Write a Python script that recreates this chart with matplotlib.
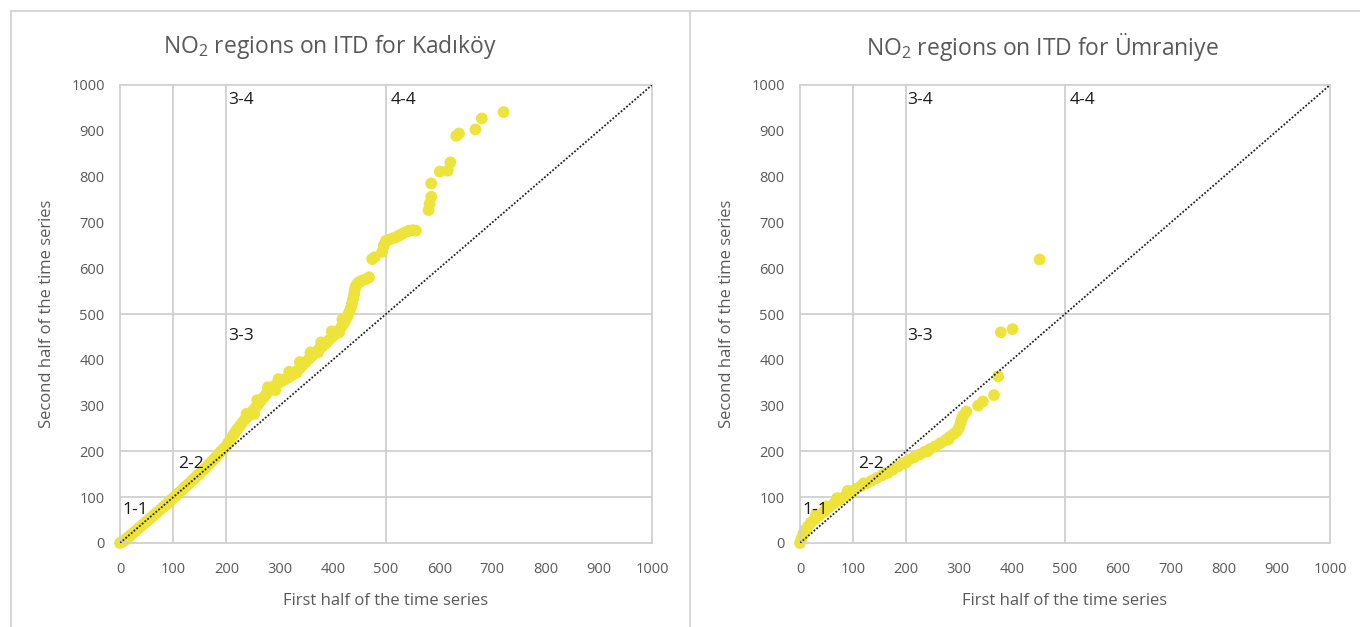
import matplotlib
matplotlib.use("Agg")
import matplotlib.pyplot as plt
from matplotlib.lines import Line2D

# Kadikoy: first half vs second half of the series
kad_x = [0, 4, 8, 12, 16, 20, 25, 30, 35, 40, 45, 50, 55, 60, 65, 70, 75, 80, 85, 90,
         95, 100, 105, 110, 115, 120, 125, 130, 135, 140, 145, 150, 155, 160, 165, 170,
         175, 180, 185, 190, 195, 200, 204, 208, 212, 216, 220, 225, 230, 235, 240, 245,
         250, 255, 260, 265, 270, 275, 280, 285, 290, 296, 302, 308, 314, 320, 326, 332,
         338, 344, 350, 356, 362, 368, 374, 380, 386, 392, 398, 404, 410, 415, 420, 424,
         428, 431, 434, 436, 438, 440, 441, 443, 446, 450, 455, 462, 468, 474, 479, 493,
         496, 500, 505, 512, 518, 524, 530, 537, 543, 550, 556, 580, 582, 585, 585, 601,
         616, 621, 632, 637, 668, 680, 721,
         238, 258, 278, 298, 318, 338, 358, 378, 398, 418, 252, 292, 332, 372, 412]
kad_y = [0, 2, 5, 9, 13, 17, 22, 27, 32, 37, 42, 47, 52, 57, 62, 67, 72, 77, 82, 87,
         93, 98, 103, 109, 114, 120, 125, 130, 136, 141, 147, 152, 158, 163, 169, 175,
         181, 187, 194, 200, 206, 212, 220, 227, 234, 241, 248, 255, 263, 270, 276, 282,
         289, 296, 303, 311, 318, 325, 332, 338, 343, 348, 352, 356, 360, 364, 369, 375,
         382, 389, 396, 403, 410, 417, 423, 429, 435, 442, 449, 455, 463, 470, 478, 487,
         496, 505, 514, 523, 533, 543, 552, 560, 566, 570, 573, 576, 580, 620, 624, 636,
         650, 660, 662, 665, 667, 671, 675, 679, 682, 683, 682, 727, 741, 756, 785, 811,
         813, 831, 889, 894, 903, 927, 941,
         282, 312, 340, 358, 374, 395, 416, 438, 462, 488, 282, 334, 372, 416, 460]

# Umraniye
umr_x = [0, 3, 6, 10, 15, 20, 28, 36, 45, 55, 65, 75, 85, 95, 105, 115, 125, 135, 145,
         155, 165, 175, 185, 195, 205, 215, 225, 235, 245, 255, 265, 275, 283, 290, 296,
         300, 303, 305, 308, 314, 336, 345, 366, 374, 379, 401, 452,
         30, 50, 70, 90, 120, 160, 200, 240, 280]
umr_y = [0, 10, 20, 28, 36, 44, 52, 60, 68, 78, 87, 94, 102, 110, 118, 124, 130, 136, 142,
         148, 153, 160, 167, 174, 181, 187, 193, 199, 205, 211, 218, 225, 232, 238, 244,
         252, 262, 270, 278, 287, 300, 309, 323, 364, 460, 467, 619,
         62, 80, 98, 114, 130, 152, 176, 200, 226]

ticks = list(range(0, 1001, 100))
grid_vals = [100, 200, 500]
region_labels = ["1-1", "2-2", "3-3", "3-4", "4-4"]
region_pos = [(5, 72), (109, 172), (203, 453), (203, 967), (508, 967)]

plt.rcParams["font.family"] = ["Open Sans", "DejaVu Sans"]
plt.rcParams["mathtext.fontset"] = "custom"
plt.rcParams["mathtext.rm"] = "Open Sans"
plt.rcParams["mathtext.it"] = "Open Sans"

W, H = 1360, 627
fig = plt.figure(figsize=(W / 100, H / 100), dpi=100)

grey_txt = "#595959"
grid_col = "#d0d0d0"
dot_col = "#ede33b"


def draw_panel(ax, xs, ys):
    ax.set_xlim(0, 1000)
    ax.set_ylim(0, 1000)
    for v in grid_vals:
        ax.axvline(v, color=grid_col, lw=1.3, zorder=1)
        ax.axhline(v, color=grid_col, lw=1.3, zorder=1)
    ax.scatter(xs, ys, s=72, color=dot_col, edgecolors="none", zorder=2, clip_on=False)
    ax.plot([0, 1000], [0, 1000], color="#222222", lw=1.3, linestyle=(0, (1, 1)), zorder=3)
    for lab, (tx, ty) in zip(region_labels, region_pos):
        ax.text(tx, ty, lab, fontsize=12.5, color="#1a1a1a", va="center", ha="left", zorder=4)
    ax.set_xticks(ticks)
    ax.set_yticks(ticks)
    ax.tick_params(length=0, labelsize=10.5, labelcolor=grey_txt)
    ax.tick_params(axis="x", pad=14)
    ax.tick_params(axis="y", pad=11)
    for s in ax.spines.values():
        s.set_color(grid_col)
        s.set_linewidth(1.3)


ax1 = fig.add_axes([120 / W, 1 - 543 / H, 532 / W, 458 / H])
draw_panel(ax1, kad_x, kad_y)
ax2 = fig.add_axes([800 / W, 1 - 543 / H, 530 / W, 458 / H])
draw_panel(ax2, umr_x, umr_y)

fig.text(330 / W, 1 - 47 / H, "NO$_2$ regions on ITD for Kadıköy", fontsize=16.5,
         color=grey_txt, ha="center", va="center")
fig.text(1042 / W, 1 - 47 / H, "NO$_2$ regions on ITD for Ümraniye", fontsize=16.5,
         color=grey_txt, ha="center", va="center")
for xc in [386, 1065]:
    fig.text(xc / W, 1 - 601 / H, "First half of the time series", fontsize=12,
             color=grey_txt, ha="center", va="center")
for yx in [47, 727]:
    fig.text(yx / W, 1 - 314 / H, "Second half of the time series", fontsize=12,
             color=grey_txt, ha="center", va="center", rotation=90)

# panel borders
border = "#d0d0d0"
fig.add_artist(Line2D([11 / W, 1], [1 - 11 / H, 1 - 11 / H], color=border, lw=1.2))
fig.add_artist(Line2D([11 / W, 11 / W], [0, 1 - 11 / H], color=border, lw=1.2))
fig.add_artist(Line2D([690 / W, 690 / W], [0, 1 - 11 / H], color=border, lw=1.2))

fig.savefig("out.png", dpi=100)
